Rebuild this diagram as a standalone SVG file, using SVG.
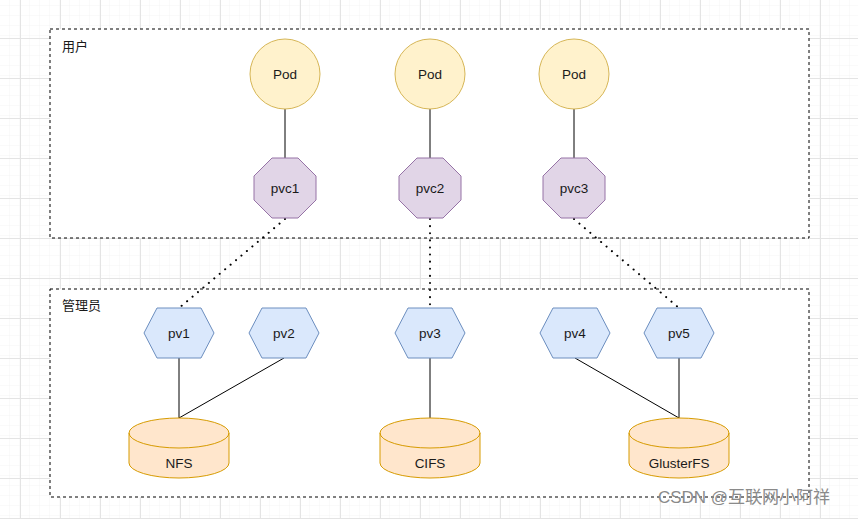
<svg xmlns="http://www.w3.org/2000/svg" width="858" height="519" viewBox="0 0 858 519">
<defs>
<pattern id="minor" width="10" height="10" patternUnits="userSpaceOnUse" x="0" y="-2">
<path d="M10 0V10M0 10H10" fill="none" stroke="#f5f5f5" stroke-width="1"/>
</pattern>
<pattern id="major" width="40" height="40" patternUnits="userSpaceOnUse" x="20" y="-2">
<rect width="40" height="40" fill="url(#minor)"/>
<path d="M0.5 0V40M0 0.5H40" fill="none" stroke="#e4e4e4" stroke-width="1"/>
</pattern>
</defs>
<style>
text{font-family:"Liberation Sans",Arial,"Noto Sans CJK SC",sans-serif;font-size:13.5px;fill:#1a1a1a;text-anchor:middle;dominant-baseline:central}
.grp{fill:#fff;stroke:#000;stroke-dasharray:3 3;stroke-width:1}
.lbl{text-anchor:start;font-size:13px}
.pod{fill:#fff2cc;stroke:#d6b656}
.pvc{fill:#e1d5e7;stroke:#9673a6}
.pv{fill:#dae8fc;stroke:#6c8ebf}
.cyl{fill:#ffe6cc;stroke:#d79b00}
.cyltop{fill:none;stroke:#d79b00}
.solid{stroke:#000;stroke-width:1;fill:none}
.dot{stroke:#000;stroke-width:2;stroke-dasharray:0.1 7;stroke-linecap:round;fill:none}
.wm{font-size:17px;fill:#8a8a8a}
</style>
<rect width="858" height="519" fill="#fff"/>
<rect width="858" height="519" fill="url(#major)"/>

<g id="group-user">
<rect class="grp" x="50" y="29" width="759" height="209"/>
<text class="lbl" x="62" y="46">用户</text>
</g>
<g id="group-admin">
<rect class="grp" x="50" y="289" width="759" height="208"/>
<text class="lbl" x="62" y="305">管理员</text>
</g>

<g id="connectors">
<line class="solid" x1="285" y1="109" x2="285" y2="158"/>
<line class="solid" x1="430" y1="109" x2="430" y2="158"/>
<line class="solid" x1="574" y1="109" x2="574" y2="158"/>
<line class="dot" x1="285" y1="219" x2="179" y2="308"/>
<line class="dot" x1="430" y1="219" x2="430" y2="308"/>
<line class="dot" x1="574" y1="219" x2="679" y2="308"/>
<line class="solid" x1="179" y1="358" x2="179" y2="418"/>
<line class="solid" x1="284" y1="358" x2="179" y2="418"/>
<line class="solid" x1="430" y1="358" x2="430" y2="418"/>
<line class="solid" x1="575" y1="358" x2="679" y2="418"/>
<line class="solid" x1="679" y1="358" x2="679" y2="418"/>
</g>

<g id="pod1"><circle class="pod" cx="285" cy="74" r="35"/><text x="285" y="74">Pod</text></g>
<g id="pod2"><circle class="pod" cx="430" cy="74" r="35"/><text x="430" y="74">Pod</text></g>
<g id="pod3"><circle class="pod" cx="574" cy="74" r="35"/><text x="574" y="74">Pod</text></g>

<g id="pvc1"><polygon class="pvc" points="-13,-30 13,-30 31,-12 31,12 13,30 -13,30 -31,12 -31,-12" transform="translate(285,188)"/><text x="285" y="188">pvc1</text></g>
<g id="pvc2"><polygon class="pvc" points="-13,-30 13,-30 31,-12 31,12 13,30 -13,30 -31,12 -31,-12" transform="translate(430,188)"/><text x="430" y="188">pvc2</text></g>
<g id="pvc3"><polygon class="pvc" points="-13,-30 13,-30 31,-12 31,12 13,30 -13,30 -31,12 -31,-12" transform="translate(574,188)"/><text x="574" y="188">pvc3</text></g>

<g id="pv1"><polygon class="pv" points="-22,-25 22,-25 35,0 22,25 -22,25 -35,0" transform="translate(179,333)"/><text x="179" y="333">pv1</text></g>
<g id="pv2"><polygon class="pv" points="-22,-25 22,-25 35,0 22,25 -22,25 -35,0" transform="translate(284,333)"/><text x="284" y="333">pv2</text></g>
<g id="pv3"><polygon class="pv" points="-22,-25 22,-25 35,0 22,25 -22,25 -35,0" transform="translate(430,333)"/><text x="430" y="333">pv3</text></g>
<g id="pv4"><polygon class="pv" points="-22,-25 22,-25 35,0 22,25 -22,25 -35,0" transform="translate(575,333)"/><text x="575" y="333">pv4</text></g>
<g id="pv5"><polygon class="pv" points="-22,-25 22,-25 35,0 22,25 -22,25 -35,0" transform="translate(679,333)"/><text x="679" y="333">pv5</text></g>

<g id="nfs" transform="translate(179,0)">
<path class="cyl" d="M-50 433A50 15 0 0 1 50 433V463A50 15 0 0 1 -50 463Z"/>
<path class="cyltop" d="M-50 433A50 15 0 0 0 50 433"/>
<text x="0" y="463">NFS</text>
</g>
<g id="cifs" transform="translate(430,0)">
<path class="cyl" d="M-50 433A50 15 0 0 1 50 433V463A50 15 0 0 1 -50 463Z"/>
<path class="cyltop" d="M-50 433A50 15 0 0 0 50 433"/>
<text x="0" y="463">CIFS</text>
</g>
<g id="glusterfs" transform="translate(679,0)">
<path class="cyl" d="M-50 433A50 15 0 0 1 50 433V463A50 15 0 0 1 -50 463Z"/>
<path class="cyltop" d="M-50 433A50 15 0 0 0 50 433"/>
<text x="0" y="463">GlusterFS</text>
</g>

<text class="wm" x="744" y="497">CSDN @互联网小阿祥</text>
</svg>
